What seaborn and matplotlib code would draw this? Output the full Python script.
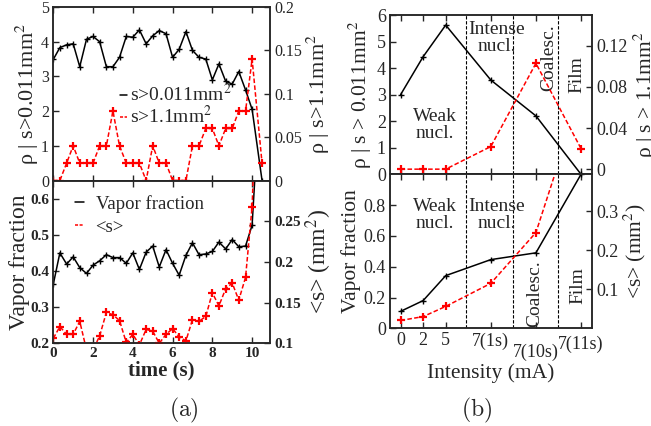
import numpy as np
import matplotlib
matplotlib.use("Agg")
import matplotlib.pyplot as plt
from matplotlib.lines import Line2D
from matplotlib.ticker import FuncFormatter
import seaborn as sns

# ---- panel (a): time series at 7 mA ----
time_s = [0.0, 0.33, 0.67, 1.0, 1.33, 1.67, 2.0, 2.33, 2.67, 3.0, 3.33, 3.67,
          4.0, 4.33, 4.67, 5.0, 5.33, 5.67, 6.0, 6.33, 6.67, 7.0, 7.33, 7.67,
          8.0, 8.33, 8.67, 9.0, 9.33, 9.67, 10.0, 10.5]
rho_small = [3.49, 3.83, 3.91, 3.94, 3.28, 4.07, 4.15, 4.0, 3.28, 3.28, 3.55, 4.15,
             4.13, 4.34, 3.94, 4.17, 4.32, 4.23, 3.55, 3.78, 4.29, 3.75, 3.55, 3.5,
             2.9, 3.36, 2.86, 2.78, 3.14, 2.61, 2.05, 0.0]
rho_large = [0.0, 0.0, 0.02, 0.04, 0.02, 0.02, 0.02, 0.04, 0.04, 0.08, 0.04, 0.02,
             0.02, 0.02, 0.0, 0.04, 0.02, 0.02, 0.0, 0.0, 0.0, 0.04, 0.04, 0.06,
             0.06, 0.04, 0.06, 0.06, 0.08, 0.08, 0.14, 0.02]
vapor = [0.364, 0.451, 0.42, 0.44, 0.41, 0.394, 0.417, 0.429, 0.446, 0.438, 0.438, 0.422,
         0.451, 0.405, 0.453, 0.47, 0.412, 0.46, 0.422, 0.389, 0.444, 0.479, 0.446, 0.448,
         0.455, 0.481, 0.462, 0.488, 0.468, 0.47, 0.528, 1.0]
mean_size = [0.106, 0.1205, 0.111, 0.111, 0.127, 0.092, 0.092, 0.109, 0.138, 0.135, 0.128, 0.101,
             0.111, 0.098, 0.117, 0.115, 0.1, 0.111, 0.118, 0.108, 0.103, 0.129, 0.127, 0.133,
             0.162, 0.146, 0.167, 0.174, 0.153, 0.181, 0.268, 0.6]

# ---- panel (b): regimes vs intensity ----
intensity_labels = ["0", "2", "5", "7(1s)", "7(10s)", "7(11s)"]
intensity_pos = [0, 1, 2, 4, 6, 8]
rho_small_b = [3.0, 4.43, 5.62, 3.55, 2.2, 0.0]
rho_large_b = [0.0, 0.0, 0.0, 0.022, 0.103, 0.02]
vapor_b = [0.11, 0.18, 0.342, 0.446, 0.49, 1.0]
size_b = [0.02, 0.03, 0.056, 0.115, 0.245, 0.6]
regime_bounds = [2.9, 5.0, 7.0]

sns.set_theme(style="ticks")
plt.rcParams['font.family'] = ['Liberation Serif', 'DejaVu Serif']
plt.rcParams['mathtext.fontset'] = 'stix'
plt.rcParams['axes.linewidth'] = 1.1

fig = plt.figure(figsize=(6.51, 4.26), dpi=100)

def px_axes(x0, x1, ytop, ybot):
    W, H = 651.0, 426.0
    return fig.add_axes([x0 / W, 1 - ybot / H, (x1 - x0) / W, (ybot - ytop) / H])

fmt = FuncFormatter(lambda v, p: '{:g}'.format(round(v, 4)))

def style(ax, size, left=True):
    ax.tick_params(direction='in', length=4, width=1.0, labelsize=size,
                   top=True, bottom=True, pad=3)
    if left:
        ax.tick_params(axis='y', left=True, right=False)
    else:
        ax.tick_params(axis='y', left=False, right=True)
    ax.yaxis.set_major_formatter(fmt)
    ax.grid(False)

black_kw = dict(color='black', marker='+', markersize=4.5, markeredgewidth=1.0,
                markeredgecolor='black', linewidth=1.1)
red_kw = dict(color='red', marker='+', markersize=5.5, markeredgewidth=1.6,
              markeredgecolor='red', linewidth=1.1, linestyle=(0, (3, 1.5)))

# ===== (a) top =====
ax1 = px_axes(53.3, 270, 7, 180.5)
ax1r = ax1.twinx()
sns.lineplot(x=time_s, y=rho_small, ax=ax1, **black_kw)
sns.lineplot(x=time_s, y=rho_large, ax=ax1r, **red_kw)
ax1.set_xlim(0, 10.9)
ax1.set_ylim(0, 5)
ax1r.set_ylim(0, 0.2)
ax1.set_xticks([0, 2, 4, 6, 8, 10])
ax1.set_xticklabels([])
ax1.set_yticks([0, 1, 2, 3, 4, 5])
ax1r.set_yticks([0, 0.05, 0.1, 0.15, 0.2])
style(ax1, 11.5)
style(ax1r, 11.5, left=False)
ax1.set_ylabel(r"ρ | s>0.011mm$^2$", fontsize=16, labelpad=0)
ax1r.set_ylabel(r"ρ | s>1.1mm$^2$", fontsize=16, labelpad=2)
leg_h = [Line2D([0], [0], color='black', lw=1.1),
         Line2D([0], [0], color='red', lw=1.1, linestyle=(0, (2, 1)))]
ax1r.legend(leg_h, [r"s>0.011mm$^2$", r"s>1.1mm$^2$"], loc='upper left',
            bbox_to_anchor=(0.31, 0.56), frameon=False, fontsize=14,
            handlelength=0.35, handletextpad=0.15, labelspacing=0.0,
            borderpad=0, borderaxespad=0)

# ===== (a) bottom =====
ax2 = px_axes(53.3, 270, 180.5, 343.3)
ax2r = ax2.twinx()
sns.lineplot(x=time_s, y=vapor, ax=ax2, **black_kw)
sns.lineplot(x=time_s, y=mean_size, ax=ax2r, **red_kw)
ax2.set_xlim(0, 10.9)
ax2.set_ylim(0.2, 0.652)
ax2r.set_ylim(0.1, 0.3)
ax2.set_xticks([0, 2, 4, 6, 8, 10])
ax2.set_yticks([0.2, 0.3, 0.4, 0.5, 0.6])
ax2r.set_yticks([0.1, 0.15, 0.2, 0.25])
style(ax2, 11)
style(ax2r, 11, left=False)
ax2.xaxis.set_major_formatter(fmt)
for lab in ax2.get_xticklabels() + ax2.get_yticklabels() + ax2r.get_yticklabels():
    lab.set_fontweight('bold')
ax2.set_ylabel("Vapor fraction", fontsize=17, labelpad=0)
ax2r.set_ylabel(r"<s> (mm$^2$)", fontsize=17, labelpad=2)
ax2.set_xlabel("time (s)", fontsize=15, fontweight='bold', labelpad=0)
leg_h2 = [Line2D([0], [0], color='black', lw=1.1),
          Line2D([0], [0], color='red', lw=1.1, linestyle=(0, (2, 1)))]
ax2r.legend(leg_h2, ["Vapor fraction", "<s>"], loc='upper left',
            bbox_to_anchor=(0.10, 0.91), frameon=False, fontsize=13.5,
            handlelength=0.5, handletextpad=0.6, labelspacing=0.3,
            borderpad=0, borderaxespad=0)

# ===== (b) top =====
ax3 = px_axes(390, 592.3, 15, 174.3)
ax3r = ax3.twinx()
sns.lineplot(x=intensity_pos, y=rho_small_b, ax=ax3, **black_kw)
sns.lineplot(x=intensity_pos, y=rho_large_b, ax=ax3r, **red_kw)
ax3.set_xlim(-0.47, 8.5)
ax3.set_ylim(0, 6)
ax3r.set_ylim(-0.005, 0.15)
ax3.set_xticks(intensity_pos)
ax3.set_xticklabels([])
ax3.set_yticks([0, 1, 2, 3, 4, 5, 6])
ax3r.set_yticks([0, 0.04, 0.08, 0.12])
style(ax3, 13)
style(ax3r, 13, left=False)
ax3.set_ylabel(r"ρ | s > 0.011mm$^2$", fontsize=15.5, labelpad=2)
ax3r.set_ylabel(r"ρ | s > 1.1mm$^2$", fontsize=15.5, labelpad=3)
for b in regime_bounds:
    ax3.axvline(b, color='black', lw=0.8, linestyle=(0, (3, 1.5)))
ax3.text(1.53, 1.86, "Weak\nnucl.", ha='center', va='center', fontsize=14,
         linespacing=1.0)
ax3.text(4.26, 5.13, "Intense\nnucl.", ha='center', va='center', fontsize=14,
         linespacing=1.0)
ax3.text(6.56, 4.4, "Coalesc.", ha='center', va='center', fontsize=14,
         rotation=90)
ax3.text(7.82, 3.74, "Film", ha='center', va='center', fontsize=14, rotation=90)

# ===== (b) bottom =====
ax4 = px_axes(390, 592.3, 174.3, 328.3)
ax4r = ax4.twinx()
sns.lineplot(x=intensity_pos, y=vapor_b, ax=ax4, **black_kw)
sns.lineplot(x=intensity_pos, y=size_b, ax=ax4r, **red_kw)
ax4.set_xlim(-0.47, 8.5)
ax4.set_ylim(0, 1.0)
ax4r.set_ylim(0, 0.394)
ax4.set_xticks(intensity_pos)
ax4.set_xticklabels(intensity_labels)
ax4.set_yticks([0, 0.2, 0.4, 0.6, 0.8])
ax4r.set_yticks([0.1, 0.2, 0.3])
style(ax4, 13)
style(ax4r, 13, left=False)
ax4.xaxis.get_major_ticks()[4].set_pad(11)
ax4.xaxis.get_major_ticks()[5].set_pad(5)
ax4.set_ylabel("Vapor fraction", fontsize=15.5, labelpad=2)
ax4r.set_ylabel(r"<s> (mm$^2$)", fontsize=15.5, labelpad=2)
ax4.set_xlabel("Intensity (mA)", fontsize=15.5, labelpad=2)
for b in regime_bounds:
    ax4.axvline(b, color='black', lw=0.8, linestyle=(0, (3, 1.5)))
ax4.text(1.53, 0.733, "Weak\nnucl.", ha='center', va='center', fontsize=14,
         linespacing=1.0)
ax4.text(4.26, 0.733, "Intense\nnucl.", ha='center', va='center', fontsize=14,
         linespacing=1.0)
ax4.text(5.97, 0.225, "Coalesc.", ha='center', va='center', fontsize=14,
         rotation=90)
ax4.text(7.85, 0.28, "Film", ha='center', va='center', fontsize=14, rotation=90)

fig.text(184 / 651, 1 - 410 / 426, r"$\mathrm{(a)}$", math_fontfamily='cm',
         fontsize=17, ha='center', va='center')
fig.text(477 / 651, 1 - 410 / 426, r"$\mathrm{(b)}$", math_fontfamily='cm',
         fontsize=17, ha='center', va='center')

fig.savefig("out.png", dpi=100)
